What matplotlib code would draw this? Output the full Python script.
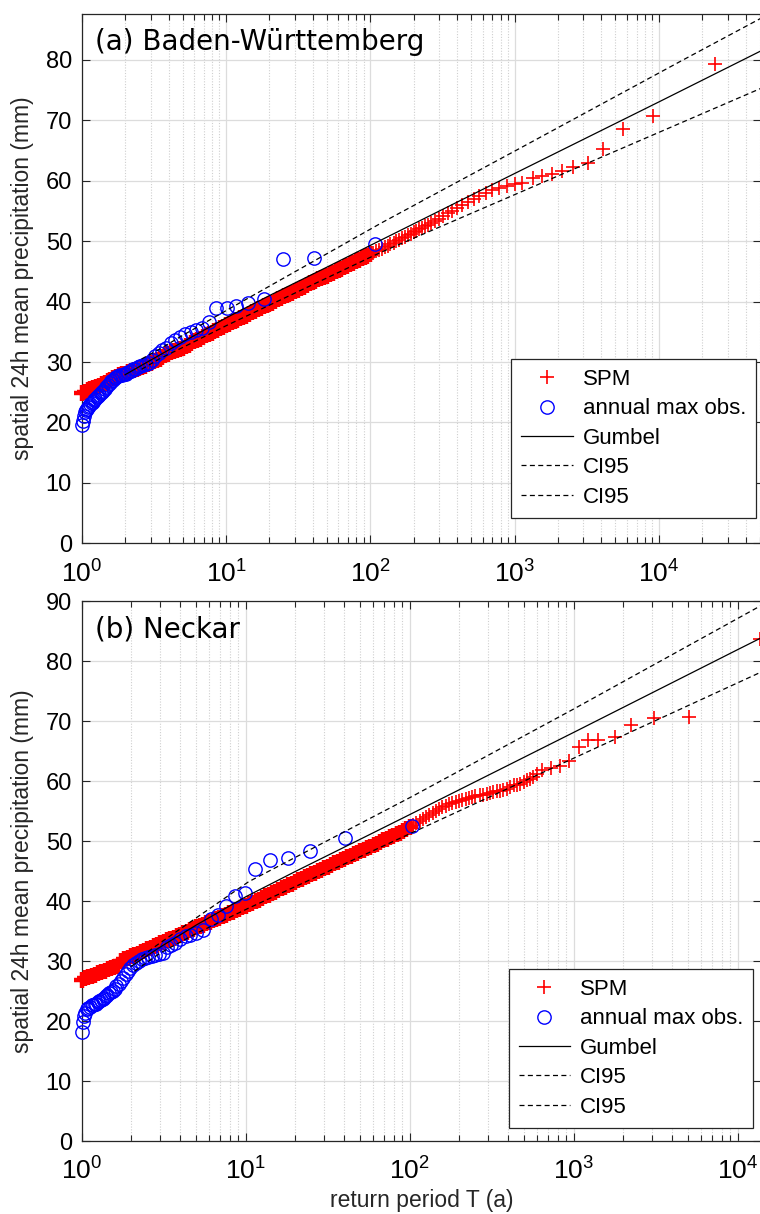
import matplotlib
matplotlib.use('Agg')
import matplotlib.pyplot as plt
from matplotlib.ticker import FixedLocator, LogLocator, NullFormatter

plt.rcParams['font.family'] = ['Liberation Sans', 'DejaVu Sans']
plt.rcParams['mathtext.fontset'] = 'custom'
plt.rcParams['mathtext.rm'] = 'Liberation Sans'
plt.rcParams['mathtext.it'] = 'Liberation Sans:italic'
plt.rcParams['mathtext.bf'] = 'Liberation Sans:bold'

# ---------------- data ----------------
# return periods of the dense part of the SPM sample (shared by both panels)
band_T = [1.00, 1.05, 1.10, 1.15, 1.20, 1.26, 1.32, 1.38, 1.45, 1.51,
          1.58, 1.66, 1.74, 1.82, 1.91, 2.00, 2.09, 2.19, 2.29, 2.40,
          2.51, 2.63, 2.75, 2.88, 3.02, 3.16, 3.31, 3.47, 3.63, 3.80,
          3.98, 4.17, 4.37, 4.57, 4.79, 5.01, 5.25, 5.50, 5.75, 6.03,
          6.31, 6.61, 6.92, 7.24, 7.59, 7.94, 8.32, 8.71, 9.12, 9.55,
          10.0, 10.5, 11.0, 11.5, 12.0, 12.6, 13.2, 13.8, 14.5, 15.1,
          15.8, 16.6, 17.4, 18.2, 19.1, 20.0, 20.9, 21.9, 22.9, 24.0,
          25.1, 26.3, 27.5, 28.8, 30.2, 31.6, 33.1, 34.7, 36.3, 38.0,
          39.8, 41.7, 43.7, 45.7, 47.9, 50.1, 52.5, 55.0, 57.5, 60.3,
          63.1, 66.1, 69.2, 72.4, 75.9, 79.4, 83.2, 87.1, 91.2, 95.5,
          100, 105, 110, 115, 120, 126, 132, 138, 145, 151,
          158, 166, 174, 182, 191, 200, 209, 219, 229, 240, 251]

# (a) Baden-Wuerttemberg
spm_a_band = [24.8, 25.0, 25.3, 25.5, 25.7, 25.9, 26.1, 26.3, 26.6, 26.9,
              27.1, 27.4, 27.6, 27.8, 27.95, 28.1, 28.3, 28.45, 28.6, 28.8,
              29.0, 29.2, 29.4, 29.7, 29.9, 30.1, 30.3, 30.55, 30.8, 31.1,
              31.4, 31.6, 31.8, 32.0, 32.2, 32.4, 32.65, 32.9, 33.15, 33.4,
              33.6, 33.85, 34.15, 34.4, 34.6, 34.85, 35.1, 35.35, 35.6, 35.85,
              36.1, 36.35, 36.6, 36.8, 37.0, 37.25, 37.5, 37.7, 38.0, 38.25,
              38.5, 38.8, 39.0, 39.2, 39.4, 39.6, 39.85, 40.1, 40.35, 40.6,
              40.85, 41.05, 41.25, 41.5, 41.7, 41.95, 42.2, 42.5, 42.75, 43.0,
              43.2, 43.45, 43.7, 43.9, 44.1, 44.3, 44.55, 44.8, 45.0, 45.2,
              45.45, 45.7, 45.95, 46.2, 46.4, 46.65, 46.9, 47.15, 47.4, 47.6,
              47.8, 48.05, 48.3, 48.55, 48.75, 49.0, 49.25, 49.5, 49.7, 49.95,
              50.2, 50.5, 50.75, 51.0, 51.25, 51.5, 51.75, 52.0, 52.2, 52.45, 52.7]
spm_a_tailT = [265, 280, 300, 320, 345, 370, 400, 435, 475, 520, 570, 630, 700,
               780, 880, 1000, 1134, 1349, 1542, 1808, 2120, 2553, 3243, 4082,
               5675, 9150, 24500]
spm_a_tailv = [53.0, 53.3, 53.7, 54.1, 54.6, 55.0, 55.5, 56.0, 56.5, 57.0, 57.5,
               58.0, 58.4, 58.8, 59.1, 59.4, 59.7, 60.4, 60.8, 61.05, 61.6, 62.3,
               63.0, 65.2, 68.5, 70.8, 79.4]
obs_a_T = [107.4, 41.0, 25.0, 18.2, 14.3, 11.7, 10.1, 8.5, 7.65, 6.8,
           6.2, 5.69, 5.19, 4.79, 4.43, 4.13, 3.86, 3.63, 3.42, 3.24,
           3.07, 2.92, 2.79, 2.66, 2.55, 2.45, 2.35, 2.26, 2.18, 2.10,
           2.03, 1.97, 1.91, 1.85, 1.79, 1.74, 1.69, 1.64, 1.60, 1.56,
           1.52, 1.48, 1.45, 1.41, 1.38, 1.35, 1.32, 1.29, 1.27, 1.24,
           1.22, 1.19, 1.17, 1.15, 1.13, 1.11, 1.09, 1.07, 1.05, 1.03,
           1.02, 1.01]
obs_a_v = [49.5, 47.3, 47.0, 40.5, 39.8, 39.2, 39.0, 38.9, 36.7, 35.6,
           35.3, 35.0, 34.6, 34.2, 33.6, 33.2, 32.4, 32.0, 31.5, 31.0,
           30.4, 29.8, 29.6, 29.5, 29.3, 29.1, 28.9, 28.8, 28.5, 28.3,
           28.1, 28.0, 27.9, 27.8, 27.7, 27.5, 27.3, 27.1, 26.8, 26.5,
           26.2, 25.8, 25.5, 25.2, 25.0, 24.8, 24.6, 24.4, 24.2, 23.9,
           23.7, 23.4, 23.2, 23.0, 22.8, 22.5, 22.3, 22.1, 21.7, 21.0,
           20.3, 19.5]
gum_a_T = [2.0, 3.0, 5.0, 10, 20, 50, 100, 1000, 10000, 51000]
gum_a_v = [27.9, 30.3, 33.3, 37.3, 41.0, 45.7, 49.3, 61.2, 73.05, 81.5]
ciu_a_T = [2.6, 3.5, 5.0, 10, 121, 1000, 14060, 51000]
ciu_a_v = [30.5, 32.2, 34.4, 38.5, 53.1, 64.9, 79.75, 86.9]
cil_a_T = [2.6, 3.5, 5.0, 10, 117, 1000, 51000]
cil_a_v = [28.8, 30.6, 32.4, 36.0, 48.1, 57.7, 75.3]

# (b) Neckar
spm_b_band = [26.9, 27.1, 27.35, 27.55, 27.75, 27.95, 28.2, 28.4, 28.6, 28.8,
              29.0, 29.25, 30.05, 30.3, 30.55, 30.8, 31.05, 31.25, 31.5, 31.75,
              31.95, 32.2, 32.45, 32.7, 32.95, 33.2, 33.45, 33.7, 33.9, 34.15,
              34.4, 34.6, 34.85, 35.1, 35.35, 35.6, 35.8, 36.05, 36.3, 36.55,
              36.8, 37.0, 37.25, 37.5, 37.75, 38.0, 38.25, 38.5, 38.7, 38.95,
              39.2, 39.45, 39.75, 40.0, 40.25, 40.5, 40.8, 41.05, 41.3, 41.55,
              41.8, 42.1, 42.35, 42.6, 42.9, 43.2, 43.45, 43.7, 43.95, 44.25,
              44.5, 44.75, 45.0, 45.25, 45.5, 45.75, 46.0, 46.3, 46.55, 46.8,
              47.05, 47.3, 47.55, 47.8, 48.05, 48.3, 48.55, 48.8, 49.05, 49.3,
              49.55, 49.85, 50.1, 50.35, 50.6, 50.85, 51.1, 51.4, 51.7, 51.95,
              52.3, 52.6, 52.95, 53.3, 53.6, 54.0, 54.35, 54.7, 55.0, 55.3,
              55.6, 55.85, 56.1, 56.35, 56.55, 56.75, 56.9, 57.05, 57.2, 57.35, 57.5]
spm_b_tailT = [268, 280, 295, 310, 324, 340, 355, 372, 390, 410, 431, 450, 471,
               495, 517, 540, 567, 600, 638, 725, 826, 940, 1077, 1227, 1413,
               1786, 2228, 3090, 5070, 13680]
spm_b_tailv = [57.6, 57.7, 57.9, 58.0, 58.15, 58.3, 58.4, 58.55, 58.7, 59.0,
               59.3, 59.4, 59.55, 59.8, 60.1, 60.4, 60.7, 61.2, 61.8, 62.1,
               62.5, 63.4, 65.6, 66.8, 66.8, 67.3, 69.4, 70.5, 70.6, 83.6]
obs_b_T = [103, 40.5, 24.8, 18.0, 14.1, 11.4, 9.9, 8.6, 7.6, 6.75,
           6.15, 5.5, 4.95, 4.6, 4.3, 3.97, 3.72, 3.5, 3.3, 3.12,
           2.95, 2.8, 2.67, 2.55, 2.44, 2.33, 2.23, 2.14, 2.05, 1.97,
           1.91, 1.85, 1.79, 1.73, 1.68, 1.63, 1.59, 1.55, 1.51, 1.47,
           1.43, 1.40, 1.37, 1.34, 1.31, 1.28, 1.25, 1.22, 1.20, 1.17,
           1.15, 1.13, 1.10, 1.08, 1.05, 1.03, 1.02, 1.01]
obs_b_v = [52.5, 50.5, 48.3, 47.2, 46.9, 45.3, 41.4, 40.8, 39.2, 37.7,
           37.0, 35.2, 34.6, 34.3, 34.1, 33.6, 33.0, 32.7, 32.3, 31.4,
           31.2, 31.0, 30.8, 30.6, 30.5, 30.3, 30.0, 29.7, 29.3, 28.9,
           28.3, 27.8, 27.2, 26.6, 26.2, 25.8, 25.4, 25.0, 24.8, 24.6,
           24.3, 24.1, 23.9, 23.7, 23.5, 23.3, 23.1, 22.9, 22.8, 22.7,
           22.6, 22.4, 22.2, 22.0, 21.4, 20.8, 19.8, 18.1]
gum_b_T = [2.0, 3.0, 5.0, 10, 20, 50, 100, 1000, 10000, 14000]
gum_b_v = [29.1, 32.3, 36.0, 40.7, 44.9, 50.3, 54.4, 68.1, 81.9, 83.9]
ciu_b_T = [2.1, 3.0, 5.0, 10.4, 103, 1000, 14000]
ciu_b_v = [29.9, 33.0, 37.2, 43.2, 57.4, 72.0, 89.3]
cil_b_T = [2.1, 3.0, 5.0, 10.4, 100, 1000, 14000]
cil_b_v = [28.3, 31.3, 34.6, 38.8, 51.2, 63.8, 78.2]

titles = ['(a) Baden-Württemberg', '(b) Neckar']
ylabel = 'spatial 24h mean precipitation (mm)'
xlabel = 'return period T (a)'
legend_labels = ['SPM', 'annual max obs.', 'Gumbel', 'CI95', 'CI95']

# ---------------- figure ----------------
fig = plt.figure(figsize=(7.6, 12.14), dpi=100)
W, H = 760.0, 1214.0
edge = '#262626'
SOLID = 101   # the densest part of the SPM sample (T <= 100) merges into a solid band

panels = [
    dict(rect=[81.7 / W, 1 - 543.3 / H, (761 - 81.7) / W, (543.3 - 14) / H],
         xlim=(1, 5.1e4), ylim=(0, 87.6), yticks=list(range(0, 81, 10)),
         bandv=spm_a_band, tailT=spm_a_tailT, tailv=spm_a_tailv,
         obsT=obs_a_T, obsv=obs_a_v, gT=gum_a_T, gv=gum_a_v,
         uT=ciu_a_T, uv=ciu_a_v, lT=cil_a_T, lv=cil_a_v,
         title=titles[0], leg=(0.9926, 0.0484), xlabel=False),
    dict(rect=[81.7 / W, 1 - 1141 / H, (761 - 81.7) / W, (1141 - 601) / H],
         xlim=(1, 1.387e4), ylim=(0, 90), yticks=list(range(0, 91, 10)),
         bandv=spm_b_band, tailT=spm_b_tailT, tailv=spm_b_tailv,
         obsT=obs_b_T, obsv=obs_b_v, gT=gum_b_T, gv=gum_b_v,
         uT=ciu_b_T, uv=ciu_b_v, lT=cil_b_T, lv=cil_b_v,
         title=titles[1], leg=(0.9886, 0.0246), xlabel=True),
]

for p in panels:
    ax = fig.add_axes(p['rect'])
    ax.set_xscale('log')
    red = '#ff0000'
    # dense part: thousands of overlapping markers form a solid band
    ax.plot(band_T[:SOLID], p['bandv'][:SOLID], ls='none', marker='+', ms=11, mew=3.2,
            color=red, clip_on=False, zorder=3)
    h_spm, = ax.plot(band_T[SOLID:] + p['tailT'], p['bandv'][SOLID:] + p['tailv'],
                     ls='none', marker='+', ms=10, mew=1.2, color=red,
                     clip_on=False, zorder=3)
    h_obs, = ax.plot(p['obsT'], p['obsv'], ls='none', marker='o', ms=9.6, mfc='none',
                     mec='#0000ff', mew=1.0, clip_on=False, zorder=4)
    h_g, = ax.plot(p['gT'], p['gv'], color='black', lw=0.9, zorder=5)
    h_u, = ax.plot(p['uT'], p['uv'], color='black', lw=0.9, ls=(0, (4, 2.7)), zorder=5)
    h_l, = ax.plot(p['lT'], p['lv'], color='black', lw=0.9, ls=(0, (4, 2.7)), zorder=5)

    ax.set_xlim(*p['xlim'])
    ax.set_ylim(*p['ylim'])
    ax.yaxis.set_major_locator(FixedLocator(p['yticks']))
    ax.xaxis.set_major_locator(LogLocator(base=10, numticks=12))
    ax.xaxis.set_minor_locator(LogLocator(base=10, subs=[2, 3, 4, 5, 6, 7, 8, 9], numticks=12))
    ax.xaxis.set_minor_formatter(NullFormatter())

    ax.set_axisbelow(True)
    ax.grid(True, which='major', axis='both', color='#dcdcdc', lw=0.9, ls='-')
    ax.grid(True, which='minor', axis='x', color='#cfcfcf', lw=0.8, ls=(0, (1, 1.5)))

    ax.tick_params(which='both', direction='in', top=True, right=True, color=edge, width=0.8)
    ax.tick_params(which='major', length=6)
    ax.tick_params(which='minor', length=4)
    ax.tick_params(axis='y', labelsize=17, pad=7, labelcolor='black')
    ax.tick_params(axis='x', labelsize=19, pad=12, labelcolor='black')
    for s in ax.spines.values():
        s.set_color(edge)
        s.set_linewidth(0.9)

    ax.set_ylabel(ylabel, fontsize=16.5, color='#262626')
    ax.yaxis.set_label_coords(-0.070, 0.5)
    if p['xlabel']:
        ax.set_xlabel(xlabel, fontsize=16.5, color='#262626')
        ax.xaxis.set_label_coords(0.5, -0.088)

    ax.text(0.0196, 0.932, p['title'], transform=ax.transAxes, fontsize=20,
            family='DejaVu Sans', ha='left', va='baseline', color='black', zorder=6)

    leg = ax.legend([h_spm, h_obs, h_g, h_u, h_l], legend_labels,
                    loc='lower right', bbox_to_anchor=p['leg'], borderaxespad=0,
                    fontsize=16, frameon=True, fancybox=False, edgecolor=edge,
                    handlelength=2.3, handletextpad=0.45, labelspacing=0.38,
                    borderpad=0.45, numpoints=1)
    leg.get_frame().set_linewidth(0.9)
    leg.get_frame().set_alpha(1)
    leg.set_zorder(10)

fig.savefig('out.png', dpi=100)
